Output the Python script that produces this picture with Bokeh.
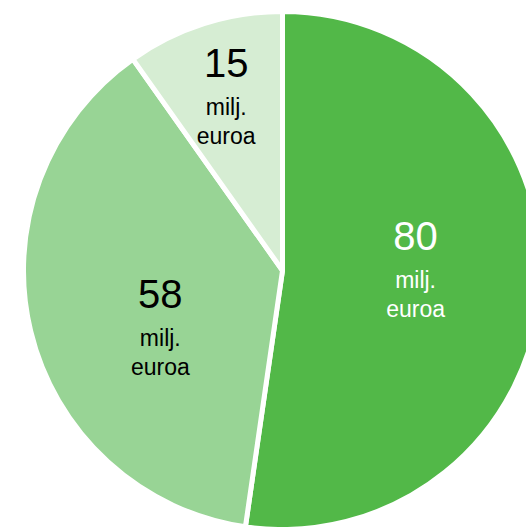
import numpy as np
from bokeh.plotting import figure
from bokeh.models import Range1d
from bokeh.core.properties import value
from bokeh.embed import file_html
from bokeh.resources import INLINE

# data
values = [80, 58, 15]
value_labels = ["80", "58", "15"]
unit_line1 = "milj."
unit_line2 = "euroa"

# styles
colors = ["#52B848", "#98D495", "#D6EDD3"]
text_colors = ["#FFFFFF", "#000000", "#000000"]
label_r_frac = [0.514, 0.517, 0.717]
label_nudge_deg = [5.7, 10.6, 0.0]
FONT = "Liberation Sans"

cx, cy, R = 282.0, -270.0, 259.0

vals = np.array(values, dtype=float)
frac = vals / vals.sum()
cum = np.concatenate([[0.0], np.cumsum(frac)])
start = np.pi / 2 - 2 * np.pi * cum[:-1]
end = np.pi / 2 - 2 * np.pi * cum[1:]
mid_clock = np.degrees(2 * np.pi * (cum[:-1] + cum[1:]) / 2)

p = figure(width=526, height=527, output_backend="svg", toolbar_location=None,
           x_range=Range1d(0, 526), y_range=Range1d(-527, 0),
           min_border=0)
p.axis.visible = False
p.grid.visible = False
p.outline_line_color = None
p.background_fill_color = "white"
p.border_fill_color = "white"

p.wedge(x=cx, y=cy, radius=R, start_angle=start, end_angle=end,
        direction="clock", fill_color=colors, line_color="white", line_width=5)

lc = np.radians(mid_clock - np.array(label_nudge_deg))
d = np.array(label_r_frac) * R
bx = cx + d * np.sin(lc)
by = cy + d * np.cos(lc)

p.text(x=bx, y=by + 31, text=value_labels, text_color=text_colors,
       text_font=value(FONT), text_font_size="40px",
       text_align="center", text_baseline="middle")
p.text(x=bx, y=by - 13, text=[unit_line1] * 3, text_color=text_colors,
       text_font=value(FONT), text_font_size="23px",
       text_align="center", text_baseline="alphabetic")
p.text(x=bx, y=by - 42, text=[unit_line2] * 3, text_color=text_colors,
       text_font=value(FONT), text_font_size="23px",
       text_align="center", text_baseline="alphabetic")

open("out.html", "w").write(file_html(p, INLINE))
